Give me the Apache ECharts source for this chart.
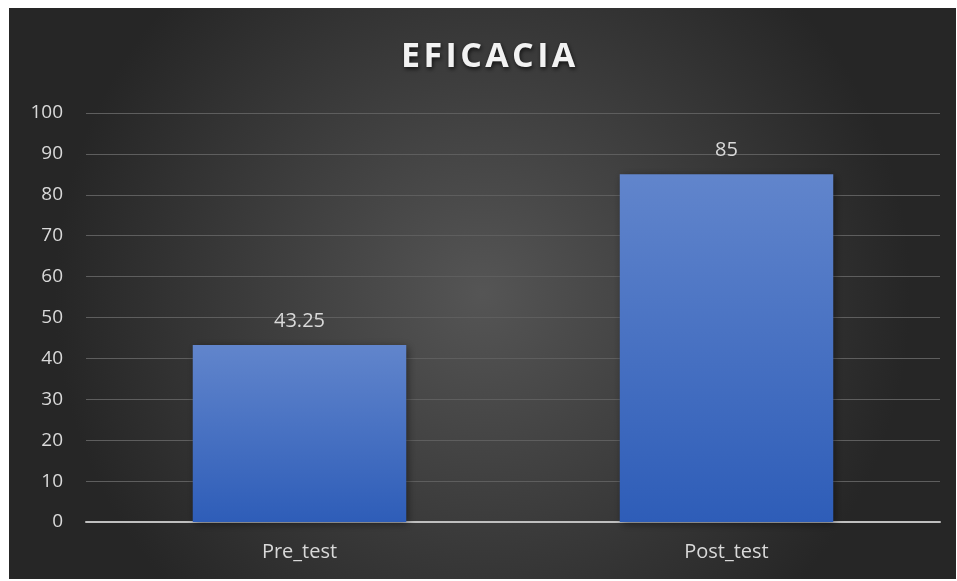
<!DOCTYPE html>
<html><head><meta charset="utf-8">
<script src="https://cdn.jsdelivr.net/npm/echarts@6/dist/echarts.min.js"></script>
<style>
html,body{margin:0;padding:0;background:#fff;width:957px;height:581px;overflow:hidden}
#c{position:absolute;left:9px;top:8px;width:947px;height:571px}
</style></head><body>
<div id="c"></div>
<script>
const titleText = 'EFICACIA';
const categories = ['Pre_test', 'Post_test'];
const values = [43.25, 85];
const yTicks = { min: 0, max: 100, interval: 10 };

const chart = echarts.init(document.getElementById('c'));
const font = '"Open Sans", sans-serif';
const spaced = titleText.split('').join('\u200A');
chart.setOption({
  backgroundColor: {
    type: 'radial', x: 0.5, y: 0.5, r: 0.75,
    colorStops: [{offset: 0, color: '#555555'}, {offset: 1, color: '#262626'}]
  },
  animation: false,
  title: {
    text: spaced, left: 392, top: 32, padding: 0,
    textStyle: {
      color: '#f2f2f2', fontSize: 34, fontWeight: 'bold', fontFamily: font,
      textShadowColor: 'rgba(0,0,0,0.7)', textShadowBlur: 4, textShadowOffsetX: 1, textShadowOffsetY: 2
    }
  },
  grid: { left: 77, right: 16, top: 105, bottom: 57, containLabel: false },
  xAxis: {
    type: 'category', data: categories,
    axisLine: { lineStyle: { color: '#bfbfbf', width: 2 } },
    axisTick: { show: false },
    axisLabel: { color: '#d9d9d9', fontSize: 20, fontFamily: font, margin: 20 }
  },
  yAxis: {
    type: 'value', min: yTicks.min, max: yTicks.max, interval: yTicks.interval,
    axisLine: { show: false }, axisTick: { show: false },
    axisLabel: { color: '#d9d9d9', fontSize: 19, fontFamily: font, margin: 23 },
    splitLine: { lineStyle: { color: '#5e5e5e', width: 1 } }
  },
  series: [{
    type: 'bar', data: values, barWidth: '50%',
    itemStyle: {
      color: { type: 'linear', x: 0, y: 0, x2: 0, y2: 1,
        colorStops: [{offset: 0, color: '#6185cc'}, {offset: 1, color: '#2e5db8'}] },
      shadowColor: 'rgba(0,0,0,0.45)', shadowBlur: 8, shadowOffsetX: 2, shadowOffsetY: 2
    },
    label: { show: true, position: 'top', distance: 14, color: '#d9d9d9', fontSize: 20, fontFamily: font }
  }]
});
</script>
</body></html>
